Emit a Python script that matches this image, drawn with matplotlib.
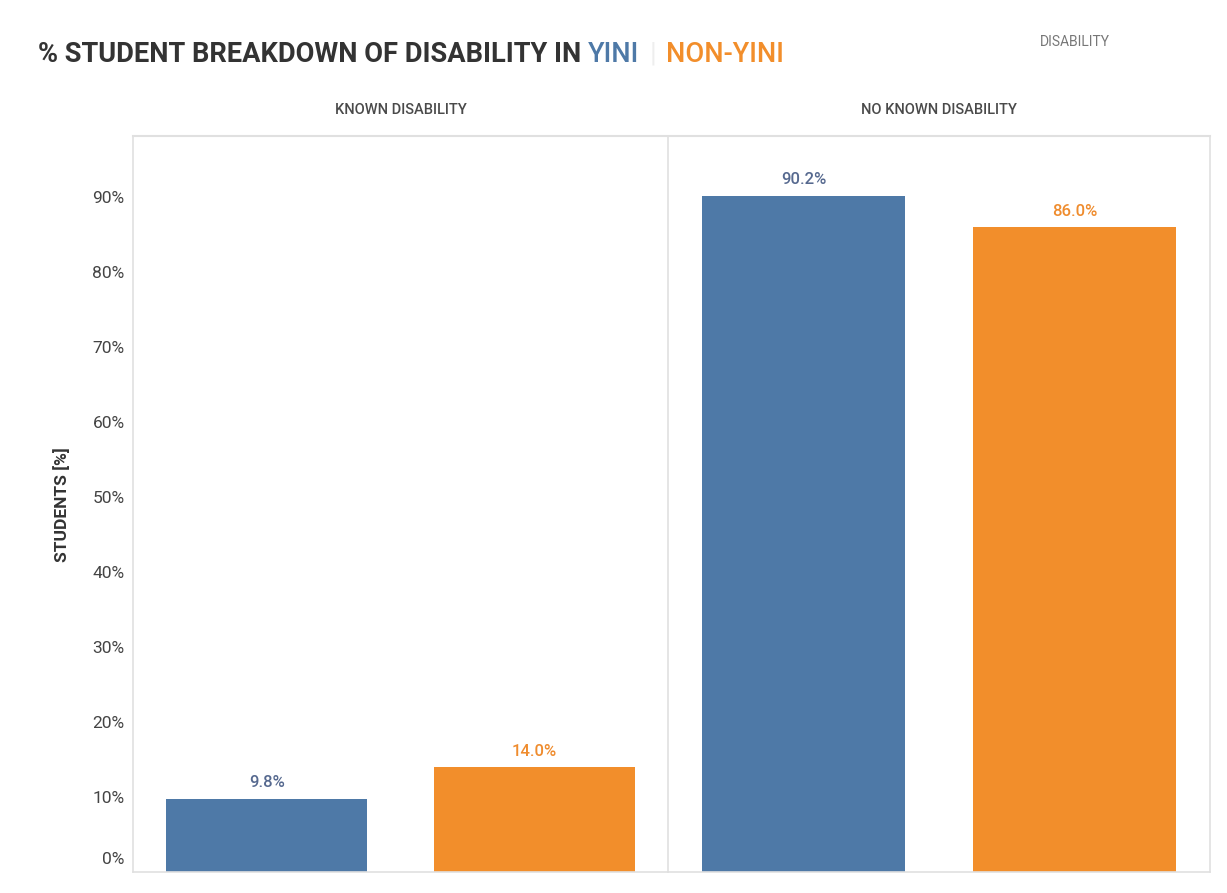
import matplotlib.pyplot as plt
from matplotlib.transforms import ScaledTranslation

# Porcentaje de estudiantes por grupo
paneles = ["KNOWN DISABILITY", "NO KNOWN DISABILITY"]
grupos = ["YINI", "NON-YINI"]
yini = [9.8, 90.2]
non_yini = [14.0, 86.0]
ticks = [0, 10, 20, 30, 40, 50, 60, 70, 80, 90]

azul = "#4e79a7"
naranja = "#f28e2b"
gris_borde = "#e0e0e0"

plt.rcParams['font.family'] = ['Roboto', 'DejaVu Sans']

fig = plt.figure(figsize=(12.27, 8.93), dpi=100)
W, H = 1227, 893

def caja(x0, y0, x1, y1):
    return [x0 / W, 1 - y1 / H, (x1 - x0) / W, (y1 - y0) / H]

ax1 = fig.add_axes(caja(133, 137, 668, 872))
ax2 = fig.add_axes(caja(668, 137, 1210, 872), sharey=ax1)

for i, (ax, nombre) in enumerate(zip([ax1, ax2], paneles)):
    valores = [yini[i], non_yini[i]]
    colores = [azul, naranja]
    colores_txt = ["#56698f", "#ef8c2e"]
    ax.bar([0, 1], valores, width=0.75, color=colores)
    for x, v, c in zip([0, 1], valores, colores_txt):
        ax.annotate(f"{v:.1f}%", (x, v), xytext=(0, 6), textcoords="offset points",
                    ha="center", va="bottom", fontsize=12, color=c, fontweight="medium")
    ax.set_xlim(-0.5, 1.5)
    ax.set_ylim(0, 98)
    ax.set_xticks([])
    for lado in ["right", "left", "bottom"]:
        ax.spines[lado].set_color(gris_borde)
        ax.spines[lado].set_linewidth(1.2)
    ax.spines["top"].set_visible(False)
    # encabezado de cada panel
    ax.text(0.5, 1.0 + 27 / 735, nombre, transform=ax.transAxes, ha="center", va="center",
            fontsize=10.5, color="#4a4a4a", fontweight="medium")

# el borde izquierdo del segundo panel hace de separador
ax1.spines["right"].set_visible(False)
ax2.tick_params(axis="y", left=False, labelleft=False)

ax1.set_yticks(ticks)
ax1.set_yticklabels([f"{t}%" for t in ticks])
ax1.tick_params(axis="y", length=0, pad=6, labelsize=12.5, labelcolor="#444444")
# la etiqueta 0% se sube un poco para que no quede cortada
lbl0 = ax1.get_yticklabels()[0]
lbl0.set_transform(lbl0.get_transform() + ScaledTranslation(0, 0.14, fig.dpi_scale_trans))

ax1.set_ylabel("STUDENTS [%]", fontsize=12.5, fontweight="bold", color="#333333", labelpad=16)

# línea bajo los encabezados
fig.add_artist(plt.Line2D([133 / W, 1210 / W], [1 - 136 / H] * 2, color=gris_borde, lw=1.5))

# título con los grupos en color
yt = 1 - 54 / H
t = fig.text(38 / W, yt, "% STUDENT BREAKDOWN OF DISABILITY IN ", fontsize=19.6,
             fontweight="bold", color="#333333", va="center")
fig.canvas.draw()
r = fig.canvas.get_renderer()
x = t.get_window_extent(r).x1
t2 = fig.text(x / W, yt, "YINI", fontsize=19.6, fontweight="medium", color=azul, va="center")
fig.canvas.draw()
x = t2.get_window_extent(r).x1 + 10
t3 = fig.text(x / W, yt, "|", fontsize=19.6, color="#eeeeee", va="center")
fig.canvas.draw()
x = t3.get_window_extent(r).x1 + 10
fig.text(x / W, yt, "NON-YINI", fontsize=19.6, fontweight="medium", color=naranja, va="center")

fig.text(1075 / W, 1 - 42 / H, "DISABILITY", fontsize=10, color="#777777", ha="center", va="center")

fig.savefig("out.png", dpi=100)
